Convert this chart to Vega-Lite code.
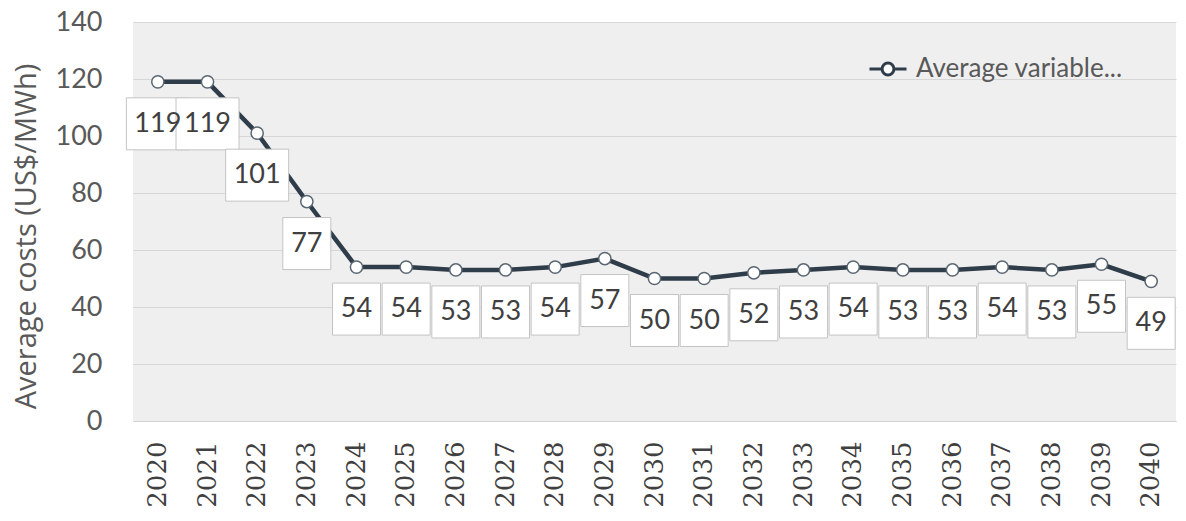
{
  "$schema": "https://vega.github.io/schema/vega-lite/v6.json",
  "autosize": "none",
  "width": 1043,
  "height": 399,
  "padding": {"left": 133, "top": 22, "right": 10, "bottom": 100},
  "background": "white",
  "config": {
    "view": {"fill": "#efefef", "stroke": null},
    "font": "Lato"
  },
  "data": {
    "values": [
      {"year": "2020", "cost": 119, "series": "Average variable..."},
      {"year": "2021", "cost": 119, "series": "Average variable..."},
      {"year": "2022", "cost": 101, "series": "Average variable..."},
      {"year": "2023", "cost": 77, "series": "Average variable..."},
      {"year": "2024", "cost": 54, "series": "Average variable..."},
      {"year": "2025", "cost": 54, "series": "Average variable..."},
      {"year": "2026", "cost": 53, "series": "Average variable..."},
      {"year": "2027", "cost": 53, "series": "Average variable..."},
      {"year": "2028", "cost": 54, "series": "Average variable..."},
      {"year": "2029", "cost": 57, "series": "Average variable..."},
      {"year": "2030", "cost": 50, "series": "Average variable..."},
      {"year": "2031", "cost": 50, "series": "Average variable..."},
      {"year": "2032", "cost": 52, "series": "Average variable..."},
      {"year": "2033", "cost": 53, "series": "Average variable..."},
      {"year": "2034", "cost": 54, "series": "Average variable..."},
      {"year": "2035", "cost": 53, "series": "Average variable..."},
      {"year": "2036", "cost": 53, "series": "Average variable..."},
      {"year": "2037", "cost": 54, "series": "Average variable..."},
      {"year": "2038", "cost": 53, "series": "Average variable..."},
      {"year": "2039", "cost": 55, "series": "Average variable..."},
      {"year": "2040", "cost": 49, "series": "Average variable..."}
    ]
  },
  "encoding": {
    "x": {
      "field": "year",
      "type": "ordinal",
      "axis": {
        "title": null,
        "labelAngle": -90,
        "labelFont": "DejaVu Serif",
        "labelFontSize": 26,
        "labelColor": "#404040",
        "labelPadding": 20,
        "ticks": false,
        "domain": true,
        "domainColor": "#d0d0d0",
        "grid": false
      }
    },
    "y": {
      "field": "cost",
      "type": "quantitative",
      "scale": {"domain": [0, 140], "nice": false},
      "axis": {
        "title": "Average costs (US$/MWh)",
        "titleFont": "Open Sans",
        "titleFontSize": 29,
        "titleFontWeight": "normal",
        "titleColor": "#595959",
        "titlePadding": 14,
        "titleY": 214,
        "values": [0, 20, 40, 60, 80, 100, 120, 140],
        "labelFont": "Lato",
        "labelFontSize": 27,
        "labelColor": "#595959",
        "labelPadding": 31,
        "ticks": false,
        "domain": false,
        "gridColor": "#d6d6d6",
        "gridWidth": 1
      }
    }
  },
  "layer": [
    {
      "mark": {"type": "line", "strokeWidth": 4.5},
      "encoding": {
        "color": {
          "field": "series",
          "type": "nominal",
          "scale": {"range": ["#2f3d4a"]},
          "legend": {
            "title": null,
            "orient": "none",
            "legendX": 735,
            "legendY": 27,
            "symbolType": "M-1,0L-0.32,0M0.32,0L1,0M0.32,0A0.32,0.32,0,1,1,-0.32,0A0.32,0.32,0,1,1,0.32,0",
            "symbolSize": 1369,
            "symbolStrokeWidth": 3,
            "symbolFillColor": "white",
            "symbolStrokeColor": "#2f3d4a",
            "labelFont": "Lato",
            "labelFontSize": 26,
            "labelColor": "#595959",
            "labelOffset": 8,
            "labelLimit": 400
          }
        }
      }
    },
    {
      "mark": {"type": "point", "shape": "circle", "filled": true, "fill": "white", "stroke": "#5a6773", "strokeWidth": 1.5, "size": 150, "opacity": 1}
    },
    {
      "transform": [{"filter": "datum.cost < 100"}],
      "mark": {"type": "rect", "width": 48, "height": 52, "yOffset": 42, "fill": "white", "stroke": "#c4c4c4", "strokeWidth": 1}
    },
    {
      "transform": [{"filter": "datum.cost >= 100"}],
      "mark": {"type": "rect", "width": 63, "height": 52, "yOffset": 42, "fill": "white", "stroke": "#c4c4c4", "strokeWidth": 1}
    },
    {
      "mark": {"type": "text", "yOffset": 42, "font": "Lato", "fontSize": 27, "color": "#404040", "baseline": "middle", "align": "center"},
      "encoding": {"text": {"field": "cost", "type": "quantitative"}}
    }
  ]
}
